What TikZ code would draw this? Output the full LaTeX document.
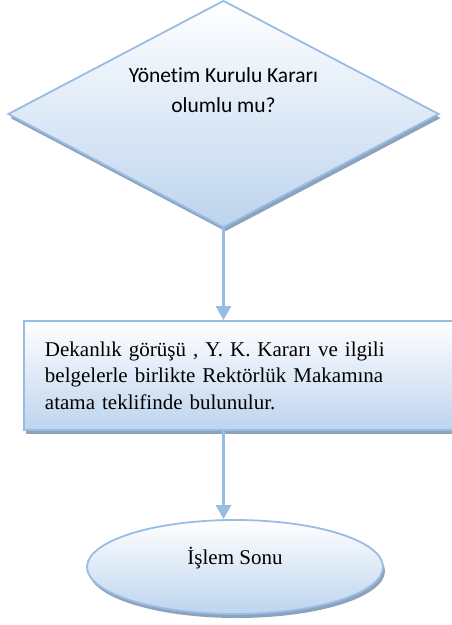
\documentclass[tikz,border=0pt]{standalone}
\usepackage{fontspec}
\setmainfont{Liberation Serif}
\newfontfamily\calibri[Ligatures=NoCommon]{Carlito}
\usetikzlibrary{shapes.geometric,arrows.meta,shadows}

\definecolor{flowline}{RGB}{152,188,228}
\definecolor{flowfill}{RGB}{189,212,238}
\definecolor{flowshadow}{RGB}{141,163,189}

\tikzset{
  flowbox/.style={draw=flowline, line width=1.8pt, top color=white, bottom color=flowfill,
    drop shadow={shadow xshift=2pt, shadow yshift=-4pt, fill=flowshadow, opacity=1}},
  decision/.style={flowbox, diamond, minimum width=431pt, minimum height=227pt, inner sep=0pt},
  process/.style={flowbox, rectangle, inner xsep=21pt, minimum height=109pt},
  terminal/.style={flowbox, ellipse, minimum width=296pt, minimum height=94pt},
  flow/.style={draw=flowline, line width=3pt, -{Triangle[length=14pt, width=15pt]}}
}

\begin{document}
\begin{tikzpicture}[x=1pt, y=1pt]
\useasboundingbox (0,0) rectangle (452,-625);

\node[decision, label={[font=\calibri\fontsize{21.5}{30}\selectfont, align=center, yshift=24pt]center:Yönetim Kurulu Kararı\\olumlu mu?}]
  (kurul) at (223.5,-114) {};

\node[process, text width=390pt, align=left, font=\fontsize{21}{26.5}\selectfont]
  (dekanlik) at (240,-375.5)
  {Dekanlık görüşü , Y. K. Kararı ve ilgili\\belgelerle birlikte Rektörlük Makamına\\atama teklifinde bulunulur.};

\node[terminal, text height=19pt, text depth=25pt, font=\fontsize{21}{25}\selectfont]
  (son) at (235,-567) {İşlem Sonu};

\draw[flow] (kurul.south) -- (kurul.south |- dekanlik.north);
\draw[flow] (kurul.south |- dekanlik.south) -- (kurul.south |- son.north);
\end{tikzpicture}
\end{document}
